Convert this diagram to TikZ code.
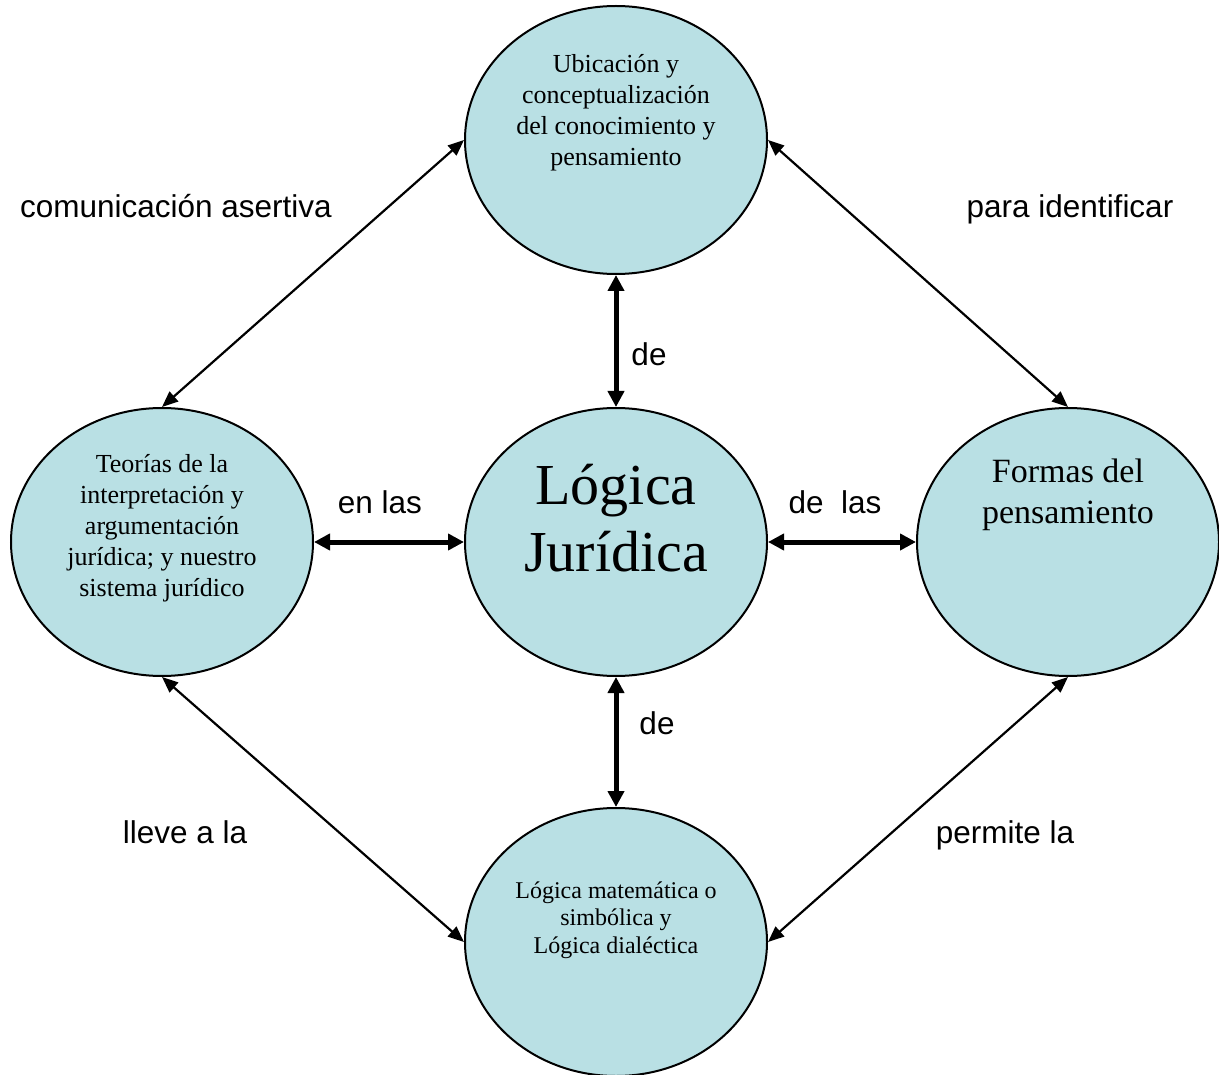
\documentclass[tikz,border=0pt]{standalone}
\usepackage{fontspec}
\setmainfont{Liberation Serif}
\setsansfont{Liberation Sans}
\usetikzlibrary{arrows.meta,shapes.geometric}
\definecolor{ellfill}{RGB}{185,224,228}
\tikzset{
  ell/.style={ellipse, draw=black, line width=2pt, fill=ellfill, minimum width=302pt, minimum height=268pt, inner sep=0pt},
  etext/.style={align=center, font=\fontsize{26}{31}\selectfont, inner sep=0pt},
  lab/.style={font=\sffamily\fontsize{31.5}{36}\selectfont, inner sep=0pt, anchor=base},
  thick arrow/.style={{Triangle[length=16pt,width=16pt]}-{Triangle[length=16pt,width=16pt]}, line width=5pt},
  thin arrow/.style={{Triangle[length=16pt,width=13pt]}-{Triangle[length=16pt,width=13pt]}, line width=2.2pt}
}
\begin{document}
\begin{tikzpicture}[x=1pt,y=-1pt]
\useasboundingbox (0,0) rectangle (1219,1075);
\fill[white] (0,0) rectangle (1219,1075);
\node[ell] (top) at (616,140) {};
\node[ell] (left) at (162,542) {};
\node[ell] (mid) at (616,542) {};
\node[ell] (right) at (1068,542) {};
\node[ell] (bot) at (616,942) {};

\node[etext] (ttop) at (616,113) {Ubicación y\\conceptualización\\del conocimiento y\\pensamiento};
\node[etext] (tleft) at (162,528) {Teorías de la\\interpretación y\\argumentación\\jurídica; y nuestro\\sistema jurídico};
\node[etext, font=\fontsize{58}{67}\selectfont] (tmid) at (616,518) {Lógica\\Jurídica};
\node[etext, font=\fontsize{34}{41}\selectfont] (tright) at (1068,495) {Formas del\\pensamiento};
\node[etext, font=\fontsize{24}{27.5}\selectfont] (tbot) at (616,920) {Lógica matemática o\\simbólica y\\Lógica dialéctica};

\draw[thick arrow] (top.south) -- (mid.north);
\draw[thick arrow] (left.east) -- (mid.west);
\draw[thick arrow] (mid.east) -- (right.west);
\draw[thick arrow] (mid.south) -- (bot.north);

\draw[thin arrow] (top.west) -- (left.north);
\draw[thin arrow] (top.east) -- (right.north);
\draw[thin arrow] (left.south) -- (bot.west);
\draw[thin arrow] (right.south) -- (bot.east);

\node[lab] (l1) at (176,218) {comunicación asertiva};
\node[lab] (l2) at (1070,218) {para identificar};
\node[lab] (l3) at (649,366) {de};
\node[lab] (l4) at (380,513) {en las};
\node[lab] (l5) at (835,513) {de\ \ las};
\node[lab] (l6) at (657,734) {de};
\node[lab] (l7) at (185,843) {lleve a la};
\node[lab] (l8) at (1005,843) {permite la};
\end{tikzpicture}
\end{document}
